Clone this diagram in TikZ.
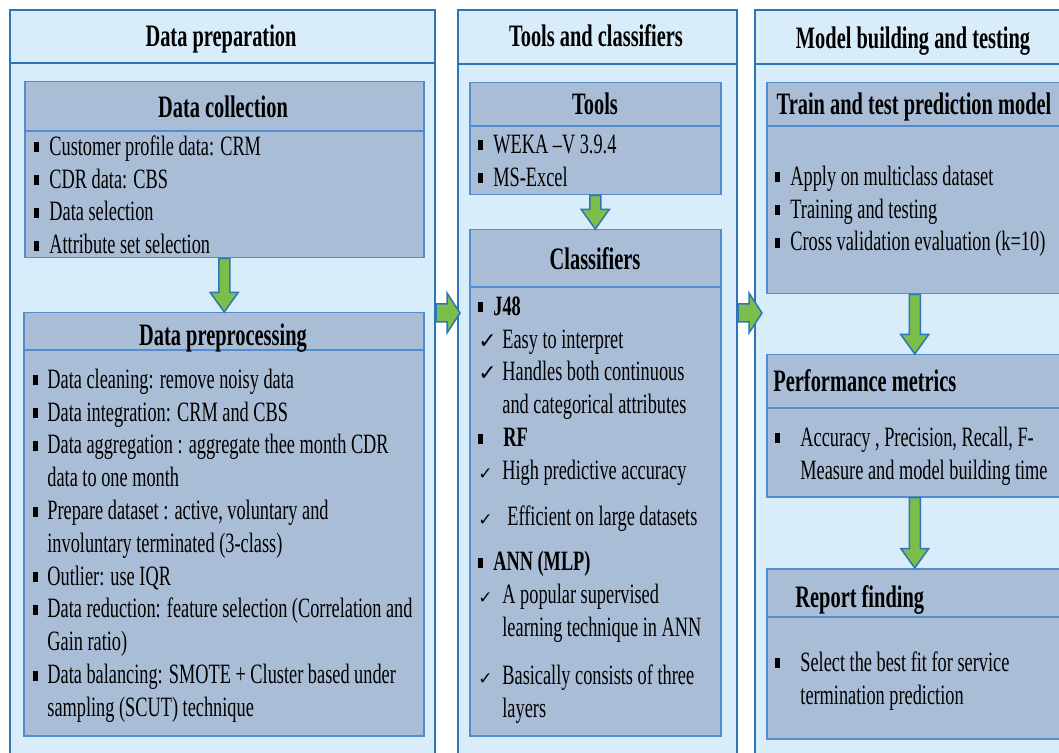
\documentclass[tikz,border=0pt]{standalone}
\usepackage{fontspec}
\setmainfont{Liberation Serif}[FakeStretch=0.654]
\newfontfamily\symfont{DejaVu Sans}
\usetikzlibrary{calc,positioning}
\definecolor{panelblue}{RGB}{216,236,250}
\definecolor{boxblue}{RGB}{170,189,214}
\definecolor{edgeblue}{RGB}{46,117,182}
\definecolor{lineblue}{RGB}{84,141,206}
\definecolor{arrowgreen}{RGB}{124,190,74}

\newcommand{\sqbul}{\rule[1.5pt]{2.5pt}{5pt}}
\newcommand{\sqitem}[1][7.5pt]{\strut\makebox[#1][l]{\sqbul}\ignorespaces}
\newcommand{\chkitem}[2][12pt]{\strut\makebox[#1][l]{\symfont\fontsize{#2}{#2}\selectfont ✓}\ignorespaces}
\newcommand{\hangline}[1][12pt]{\strut\hspace*{#1}\ignorespaces}

% block arrows between boxes
\newcommand{\flowdown}[2]{%
  \draw[blockarrow] let \p1=(#1.south), \p2=(#2.north) in
    (\x1-2.75pt,\y1) -- (\x1-2.75pt,\y2+9.75pt) -- (\x1-7pt,\y2+9.75pt) -- (\x1,\y2)
    -- (\x1+7pt,\y2+9.75pt) -- (\x1+2.75pt,\y2+9.75pt) -- (\x1+2.75pt,\y1) -- cycle;}
\newcommand{\flowright}[3]{%
  \draw[blockarrow] let \p1=(#1.east |- flowlevel), \p2=(#2.west |- flowlevel) in
    (\x1,\y1+4.5pt) -- (\x2+#3-6.5pt,\y1+4.5pt) -- (\x2+#3-6.5pt,\y1+10pt) -- (\x2+#3,\y1)
    -- (\x2+#3-6.5pt,\y1-10pt) -- (\x2+#3-6.5pt,\y1-4.5pt) -- (\x1,\y1-4.5pt) -- cycle;}

\begin{document}
\begin{tikzpicture}[x=0.5pt,y=-0.5pt,
    panel/.style={draw=edgeblue,line width=1pt,fill=panelblue,anchor=north west,inner sep=0pt},
    box/.style={draw=lineblue,line width=0.75pt,fill=boxblue,anchor=north west,inner sep=0pt},
    divider/.style={draw=lineblue,line width=0.75pt},
    heading/.style={font=\fontsize{15.6pt}{18pt}\selectfont\bfseries,inner sep=0pt,anchor=base},
    items/.style={font=\fontsize{14pt}{16.4pt}\selectfont,align=left,inner sep=0pt,anchor=north west},
    blockarrow/.style={draw=edgeblue,line width=0.75pt,fill=arrowgreen,line join=miter},
]
\useasboundingbox (0,0) rectangle (1059,753);
\clip (0,0) rectangle (1059,753);

% Panels
\node[panel,minimum width=212.5pt,minimum height=380pt] (prep) at (9,9) {};
\node[panel,minimum width=139.5pt,minimum height=380pt] (tools) at (457,9) {};
\node[panel,minimum width=159pt,minimum height=380pt] (model) at (754,9) {};

% Title bands
\node[panel,minimum width=212.5pt,minimum height=26.5pt] (prepband) at (9,9) {};
\node[panel,minimum width=139.5pt,minimum height=27pt] (toolsband) at (457,9) {};
\node[panel,minimum width=159pt,minimum height=27pt] (modelband) at (754,9) {};

% Inner boxes
\node[box,minimum width=199.5pt,minimum height=88pt] (collect) at (24,81) {};
\node[box,minimum width=200pt,minimum height=211.5pt] (preproc) at (23,312) {};
\node[box,minimum width=125.5pt,minimum height=56pt] (toolbox) at (469,82) {};
\node[box,minimum width=125.5pt,minimum height=253pt] (classif) at (469,229) {};
\node[box,minimum width=148pt,minimum height=105.5pt] (train) at (766,82) {};
\node[box,minimum width=148pt,minimum height=71pt] (metrics) at (766,354) {};
\node[box,minimum width=148pt,minimum height=85pt] (report) at (766,568) {};

% Header lines
\foreach \b/\d in {collect/50,preproc/38,toolbox/44,classif/58,train/44,metrics/54,report/49}
    \draw[divider] ($(\b.north west)+(0,\d)$) -- ($(\b.north east)+(0,\d)$);

% Arrows
\coordinate (flowlevel) at (0,313);
\flowdown{collect}{preproc}
\flowdown{toolbox}{classif}
\flowdown{train}{metrics}
\flowdown{metrics}{report}
\flowright{prep}{tools}{1.5pt}
\flowright{tools}{model}{4pt}

% Headings
\node[heading] (preptitle) at (221,47) {Data preparation};
\node[heading] (toolstitle) at (596,47) {Tools and classifiers};
\node[heading] (modeltitle) at (913,49) {Model building and testing};
\node[heading] (collecttitle) at (223,118) {Data collection};
\node[heading] (preproctitle) at (223,345) {Data preprocessing};
\node[heading] (toolboxtitle) at (595,115) {Tools};
\node[heading] (classiftitle) at (595,270) {Classifiers};
\node[heading] (traintitle) at (914,115) {Train and test prediction model};
\node[heading,anchor=base west] (metricstitle) at (773,392) {Performance metrics};
\node[heading,anchor=base west] (reporttitle) at (795,607) {Report finding};

% Lists
\node[items] (collectlist) at (34,132) {%
    \sqitem Customer profile data: CRM\\
    \sqitem CDR data: CBS\\
    \sqitem Data selection\\
    \sqitem Attribute set selection};
\node[items] (preplist) at (33,365) {%
    \sqitem[7pt] Data cleaning: remove noisy data\\
    \sqitem[7pt] Data integration: CRM and CBS\\
    \sqitem[7pt] Data aggregation : aggregate thee month CDR\\
    \hangline[7pt] data to one month\\
    \sqitem[7pt] Prepare dataset : active, voluntary and\\
    \hangline[7pt] involuntary terminated (3-class)\\
    \sqitem[7pt] Outlier: use IQR\\
    \sqitem[7pt] Data reduction: feature selection (Correlation and\\
    \hangline[7pt] Gain ratio)\\
    \sqitem[7pt] Data balancing: SMOTE + Cluster based under\\
    \hangline[7pt] sampling (SCUT) technique};
\node[items] (toollist) at (478,130) {%
    \sqitem WEKA –V 3.9.4\\
    \sqitem MS-Excel};
\node[items] (classiflist) at (478,292) {%
    \sqitem \textbf{J48}\\
    \chkitem{11pt}Easy to interpret\\
    \chkitem{11pt}Handles both continuous\\
    \hangline and categorical attributes\\
    \sqitem[12.5pt]\textbf{RF}\\
    \chkitem{8.5pt}High predictive accuracy\\[6.5pt]
    \chkitem[14.5pt]{8.5pt}Efficient on large datasets\\[6.5pt]
    \sqitem \textbf{ANN (MLP)}\\
    \chkitem{8.5pt}A popular supervised\\
    \hangline learning technique in ANN\\[7.5pt]
    \chkitem{8.5pt}Basically consists of three\\
    \hangline layers};
\node[items] (trainlist) at (775,162) {%
    \sqitem Apply on multiclass dataset\\
    \sqitem Training and testing\\
    \sqitem Cross validation evaluation (k=10)};
\node[items] (metricslist) at (775,423) {%
    \sqitem[12.5pt] Accuracy , Precision, Recall, F-\\
    \hangline[12.5pt] Measure and model building time};
\node[items] (reportlist) at (775,648) {%
    \sqitem[12.5pt] Select the best fit for service\\
    \hangline[12.5pt] termination prediction};

\end{tikzpicture}
\end{document}
